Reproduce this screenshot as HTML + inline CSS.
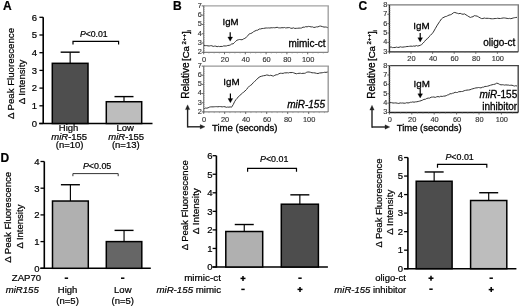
<!DOCTYPE html>
<html><head><meta charset="utf-8"><style>
html,body{margin:0;padding:0;background:#fff;}
svg{display:block;font-family:"Liberation Sans", sans-serif;will-change:transform;}
text{stroke:#000;stroke-width:0.22px;}
.bc text{stroke-width:0.3px;}
text.g{stroke:#333;stroke-width:0.15px;}
</style></head><body>
<svg width="520" height="307" viewBox="0 0 520 307">
<text x="3.00" y="9.80" font-size="12" text-anchor="start" font-weight="bold" font-style="normal" fill="#000" >A</text>
<text x="173.00" y="9.80" font-size="12" text-anchor="start" font-weight="bold" font-style="normal" fill="#000" >B</text>
<text x="358.50" y="9.90" font-size="12" text-anchor="start" font-weight="bold" font-style="normal" fill="#000" >C</text>
<text x="0.60" y="162.20" font-size="12" text-anchor="start" font-weight="bold" font-style="normal" fill="#000" >D</text>
<line x1="43.20" y1="17.30" x2="43.20" y2="124.00" stroke="#000" stroke-width="1.6" />
<line x1="39.20" y1="123.50" x2="152.50" y2="123.50" stroke="#000" stroke-width="1.6" />
<line x1="39.40" y1="123.50" x2="43.20" y2="123.50" stroke="#000" stroke-width="1.3" />
<text x="37.00" y="126.80" font-size="9.5" text-anchor="end" font-weight="normal" font-style="normal" fill="#000" >0</text>
<line x1="39.40" y1="105.80" x2="43.20" y2="105.80" stroke="#000" stroke-width="1.3" />
<text x="37.00" y="109.10" font-size="9.5" text-anchor="end" font-weight="normal" font-style="normal" fill="#000" >1</text>
<line x1="39.40" y1="88.10" x2="43.20" y2="88.10" stroke="#000" stroke-width="1.3" />
<text x="37.00" y="91.40" font-size="9.5" text-anchor="end" font-weight="normal" font-style="normal" fill="#000" >2</text>
<line x1="39.40" y1="70.40" x2="43.20" y2="70.40" stroke="#000" stroke-width="1.3" />
<text x="37.00" y="73.70" font-size="9.5" text-anchor="end" font-weight="normal" font-style="normal" fill="#000" >3</text>
<line x1="39.40" y1="52.70" x2="43.20" y2="52.70" stroke="#000" stroke-width="1.3" />
<text x="37.00" y="56.00" font-size="9.5" text-anchor="end" font-weight="normal" font-style="normal" fill="#000" >4</text>
<line x1="39.40" y1="35.00" x2="43.20" y2="35.00" stroke="#000" stroke-width="1.3" />
<text x="37.00" y="38.30" font-size="9.5" text-anchor="end" font-weight="normal" font-style="normal" fill="#000" >5</text>
<line x1="39.40" y1="17.30" x2="43.20" y2="17.30" stroke="#000" stroke-width="1.3" />
<text x="37.00" y="20.60" font-size="9.5" text-anchor="end" font-weight="normal" font-style="normal" fill="#000" >6</text>
<line x1="70.15" y1="63.32" x2="70.15" y2="52.17" stroke="#000" stroke-width="1.15" />
<line x1="60.65" y1="52.17" x2="79.65" y2="52.17" stroke="#000" stroke-width="1.4" />
<rect x="52.30" y="63.32" width="35.70" height="60.18" fill="#4e4e4e" stroke="#000" stroke-width="1.5"/>
<line x1="124.00" y1="101.73" x2="124.00" y2="96.60" stroke="#000" stroke-width="1.15" />
<line x1="114.50" y1="96.60" x2="133.50" y2="96.60" stroke="#000" stroke-width="1.4" />
<rect x="106.30" y="101.73" width="35.40" height="21.77" fill="#bdbdbd" stroke="#000" stroke-width="1.5"/>
<path d="M73.0,44.6 V41.4 H118.6 V44.6" stroke="#000" stroke-width="1.2" fill="none" />
<text x="93.8" y="37.0" font-size="8.7" text-anchor="middle"><tspan font-style="italic">P</tspan>&lt;0.01</text>
<text x="68.60" y="130.60" font-size="9.5" text-anchor="middle" font-weight="normal" font-style="normal" fill="#000" >High</text>
<text x="69.2" y="139.7" font-size="9.5" text-anchor="middle"><tspan font-style="italic">miR</tspan>-155</text>
<text x="69.60" y="148.20" font-size="9.5" text-anchor="middle" font-weight="normal" font-style="normal" fill="#000" >(n=10)</text>
<text x="125.20" y="130.60" font-size="9.5" text-anchor="middle" font-weight="normal" font-style="normal" fill="#000" >Low</text>
<text x="126.2" y="139.7" font-size="9.5" text-anchor="middle"><tspan font-style="italic">miR</tspan>-155</text>
<text x="125.80" y="148.20" font-size="9.5" text-anchor="middle" font-weight="normal" font-style="normal" fill="#000" >(n=13)</text>
<text transform="translate(13.6,73.5) rotate(-90)" font-size="9.3" text-anchor="middle" textLength="91" lengthAdjust="spacingAndGlyphs">&#916; Peak Fluorescence</text>
<text transform="translate(25.2,82.0) rotate(-90)" font-size="9.3" text-anchor="middle" textLength="44.5" lengthAdjust="spacingAndGlyphs">&#916; Intensity</text>
<line x1="44.30" y1="161.50" x2="44.30" y2="268.80" stroke="#000" stroke-width="1.6" />
<line x1="40.30" y1="268.30" x2="150.80" y2="268.30" stroke="#000" stroke-width="1.6" />
<line x1="40.50" y1="268.30" x2="44.30" y2="268.30" stroke="#000" stroke-width="1.3" />
<text x="39.60" y="271.60" font-size="9.5" text-anchor="end" font-weight="normal" font-style="normal" fill="#000" >0</text>
<line x1="40.50" y1="241.60" x2="44.30" y2="241.60" stroke="#000" stroke-width="1.3" />
<text x="39.60" y="244.90" font-size="9.5" text-anchor="end" font-weight="normal" font-style="normal" fill="#000" >1</text>
<line x1="40.50" y1="214.90" x2="44.30" y2="214.90" stroke="#000" stroke-width="1.3" />
<text x="39.60" y="218.20" font-size="9.5" text-anchor="end" font-weight="normal" font-style="normal" fill="#000" >2</text>
<line x1="40.50" y1="188.20" x2="44.30" y2="188.20" stroke="#000" stroke-width="1.3" />
<text x="39.60" y="191.50" font-size="9.5" text-anchor="end" font-weight="normal" font-style="normal" fill="#000" >3</text>
<line x1="40.50" y1="161.50" x2="44.30" y2="161.50" stroke="#000" stroke-width="1.3" />
<text x="39.60" y="164.80" font-size="9.5" text-anchor="end" font-weight="normal" font-style="normal" fill="#000" >4</text>
<line x1="70.40" y1="201.02" x2="70.40" y2="184.73" stroke="#000" stroke-width="1.15" />
<line x1="60.90" y1="184.73" x2="79.90" y2="184.73" stroke="#000" stroke-width="1.4" />
<rect x="52.50" y="201.02" width="35.80" height="67.28" fill="#b0b0b0" stroke="#000" stroke-width="1.5"/>
<line x1="124.05" y1="241.60" x2="124.05" y2="230.39" stroke="#000" stroke-width="1.15" />
<line x1="114.55" y1="230.39" x2="133.55" y2="230.39" stroke="#000" stroke-width="1.4" />
<rect x="106.30" y="241.60" width="35.50" height="26.70" fill="#666666" stroke="#000" stroke-width="1.5"/>
<path d="M72.9,176.2 V173.6 H118.2 V176.2" stroke="#333" stroke-width="1.0" fill="none" />
<text x="97.1" y="169.2" font-size="8.9" text-anchor="middle"><tspan font-style="italic">P</tspan>&lt;0.05</text>
<text transform="translate(11.2,217.3) rotate(-90)" font-size="9.3" text-anchor="middle" textLength="91" lengthAdjust="spacingAndGlyphs">&#916; Peak Fluorescence</text>
<text transform="translate(22.6,226.6) rotate(-90)" font-size="9.3" text-anchor="middle" textLength="44" lengthAdjust="spacingAndGlyphs">&#916; Intensity</text>
<text x="41.20" y="281.20" font-size="9.6" text-anchor="end" font-weight="normal" font-style="normal" fill="#000" >ZAP70</text>
<text x="38.80" y="293.20" font-size="9.6" text-anchor="end" font-weight="normal" font-style="italic" fill="#000" >miR155</text>
<line x1="64.70" y1="278.20" x2="68.10" y2="278.20" stroke="#000" stroke-width="1.5" />
<line x1="121.00" y1="278.20" x2="124.40" y2="278.20" stroke="#000" stroke-width="1.5" />
<text x="67.60" y="293.40" font-size="9.5" text-anchor="middle" font-weight="normal" font-style="normal" fill="#000" >High</text>
<text x="67.60" y="304.40" font-size="9.5" text-anchor="middle" font-weight="normal" font-style="normal" fill="#000" >(n=5)</text>
<text x="122.80" y="293.40" font-size="9.5" text-anchor="middle" font-weight="normal" font-style="normal" fill="#000" >Low</text>
<text x="122.80" y="304.40" font-size="9.5" text-anchor="middle" font-weight="normal" font-style="normal" fill="#000" >(n=5)</text>
<line x1="216.40" y1="155.70" x2="216.40" y2="267.50" stroke="#000" stroke-width="1.6" />
<line x1="212.40" y1="267.00" x2="327.90" y2="267.00" stroke="#000" stroke-width="1.6" />
<line x1="212.60" y1="267.00" x2="216.40" y2="267.00" stroke="#000" stroke-width="1.3" />
<text x="212.60" y="270.30" font-size="9.5" text-anchor="end" font-weight="normal" font-style="normal" fill="#000" >0</text>
<line x1="212.60" y1="248.45" x2="216.40" y2="248.45" stroke="#000" stroke-width="1.3" />
<text x="212.60" y="251.75" font-size="9.5" text-anchor="end" font-weight="normal" font-style="normal" fill="#000" >1</text>
<line x1="212.60" y1="229.90" x2="216.40" y2="229.90" stroke="#000" stroke-width="1.3" />
<text x="212.60" y="233.20" font-size="9.5" text-anchor="end" font-weight="normal" font-style="normal" fill="#000" >2</text>
<line x1="212.60" y1="211.35" x2="216.40" y2="211.35" stroke="#000" stroke-width="1.3" />
<text x="212.60" y="214.65" font-size="9.5" text-anchor="end" font-weight="normal" font-style="normal" fill="#000" >3</text>
<line x1="212.60" y1="192.80" x2="216.40" y2="192.80" stroke="#000" stroke-width="1.3" />
<text x="212.60" y="196.10" font-size="9.5" text-anchor="end" font-weight="normal" font-style="normal" fill="#000" >4</text>
<line x1="212.60" y1="174.25" x2="216.40" y2="174.25" stroke="#000" stroke-width="1.3" />
<text x="212.60" y="177.55" font-size="9.5" text-anchor="end" font-weight="normal" font-style="normal" fill="#000" >5</text>
<line x1="212.60" y1="155.70" x2="216.40" y2="155.70" stroke="#000" stroke-width="1.3" />
<text x="212.60" y="159.00" font-size="9.5" text-anchor="end" font-weight="normal" font-style="normal" fill="#000" >6</text>
<line x1="244.25" y1="231.50" x2="244.25" y2="224.52" stroke="#000" stroke-width="1.15" />
<line x1="234.75" y1="224.52" x2="253.75" y2="224.52" stroke="#000" stroke-width="1.4" />
<rect x="225.80" y="231.50" width="36.90" height="35.50" fill="#b0b0b0" stroke="#000" stroke-width="1.5"/>
<line x1="299.85" y1="204.21" x2="299.85" y2="194.84" stroke="#000" stroke-width="1.15" />
<line x1="290.35" y1="194.84" x2="309.35" y2="194.84" stroke="#000" stroke-width="1.4" />
<rect x="281.30" y="204.21" width="37.10" height="62.79" fill="#4d4d4d" stroke="#000" stroke-width="1.5"/>
<path d="M247.6,171.70000000000002 V168.4 H296.5 V171.70000000000002" stroke="#000" stroke-width="1.2" fill="none" />
<text x="274.2" y="162.1" font-size="8.9" text-anchor="middle"><tspan font-style="italic">P</tspan>&lt;0.01</text>
<text transform="translate(187.6,205.3) rotate(-90)" font-size="9.3" text-anchor="middle" textLength="90" lengthAdjust="spacingAndGlyphs">&#916; Peak Fluorescence</text>
<text transform="translate(199.4,211.2) rotate(-90)" font-size="9.3" text-anchor="middle" textLength="46" lengthAdjust="spacingAndGlyphs">&#916; Intensity</text>
<text x="220.90" y="281.30" font-size="9.9" text-anchor="end" font-weight="normal" font-style="normal" fill="#000" >mimic-ct</text>
<text x="221.0" y="292.9" font-size="9.7" text-anchor="end"><tspan font-style="italic">miR-155</tspan> mimic</text>
<line x1="240.50" y1="278.40" x2="245.50" y2="278.40" stroke="#000" stroke-width="1.5" />
<line x1="243.00" y1="275.90" x2="243.00" y2="280.90" stroke="#000" stroke-width="1.5" />
<line x1="241.30" y1="289.40" x2="244.70" y2="289.40" stroke="#000" stroke-width="1.5" />
<line x1="298.30" y1="278.20" x2="301.70" y2="278.20" stroke="#000" stroke-width="1.5" />
<line x1="297.50" y1="289.40" x2="302.50" y2="289.40" stroke="#000" stroke-width="1.5" />
<line x1="300.00" y1="286.90" x2="300.00" y2="291.90" stroke="#000" stroke-width="1.5" />
<line x1="407.90" y1="157.52" x2="407.90" y2="269.20" stroke="#000" stroke-width="1.6" />
<line x1="403.90" y1="268.70" x2="516.40" y2="268.70" stroke="#000" stroke-width="1.6" />
<line x1="404.10" y1="268.70" x2="407.90" y2="268.70" stroke="#000" stroke-width="1.3" />
<text x="403.00" y="272.00" font-size="9.5" text-anchor="end" font-weight="normal" font-style="normal" fill="#000" >0</text>
<line x1="404.10" y1="250.17" x2="407.90" y2="250.17" stroke="#000" stroke-width="1.3" />
<text x="403.00" y="253.47" font-size="9.5" text-anchor="end" font-weight="normal" font-style="normal" fill="#000" >1</text>
<line x1="404.10" y1="231.64" x2="407.90" y2="231.64" stroke="#000" stroke-width="1.3" />
<text x="403.00" y="234.94" font-size="9.5" text-anchor="end" font-weight="normal" font-style="normal" fill="#000" >2</text>
<line x1="404.10" y1="213.11" x2="407.90" y2="213.11" stroke="#000" stroke-width="1.3" />
<text x="403.00" y="216.41" font-size="9.5" text-anchor="end" font-weight="normal" font-style="normal" fill="#000" >3</text>
<line x1="404.10" y1="194.58" x2="407.90" y2="194.58" stroke="#000" stroke-width="1.3" />
<text x="403.00" y="197.88" font-size="9.5" text-anchor="end" font-weight="normal" font-style="normal" fill="#000" >4</text>
<line x1="404.10" y1="176.05" x2="407.90" y2="176.05" stroke="#000" stroke-width="1.3" />
<text x="403.00" y="179.35" font-size="9.5" text-anchor="end" font-weight="normal" font-style="normal" fill="#000" >5</text>
<line x1="404.10" y1="157.52" x2="407.90" y2="157.52" stroke="#000" stroke-width="1.3" />
<text x="403.00" y="160.82" font-size="9.5" text-anchor="end" font-weight="normal" font-style="normal" fill="#000" >6</text>
<line x1="434.15" y1="181.24" x2="434.15" y2="171.97" stroke="#000" stroke-width="1.15" />
<line x1="424.65" y1="171.97" x2="443.65" y2="171.97" stroke="#000" stroke-width="1.4" />
<rect x="416.20" y="181.24" width="35.90" height="87.46" fill="#4d4d4d" stroke="#000" stroke-width="1.5"/>
<line x1="488.70" y1="200.51" x2="488.70" y2="192.73" stroke="#000" stroke-width="1.15" />
<line x1="479.20" y1="192.73" x2="498.20" y2="192.73" stroke="#000" stroke-width="1.4" />
<rect x="470.60" y="200.51" width="36.20" height="68.19" fill="#bdbdbd" stroke="#000" stroke-width="1.5"/>
<path d="M437.5,167.70000000000002 V164.4 H486.8 V167.70000000000002" stroke="#000" stroke-width="1.2" fill="none" />
<text x="459.6" y="159.6" font-size="8.9" text-anchor="middle"><tspan font-style="italic">P</tspan>&lt;0.01</text>
<text transform="translate(381.8,203.0) rotate(-90)" font-size="9.3" text-anchor="middle" textLength="89" lengthAdjust="spacingAndGlyphs">&#916; Peak Fluorescence</text>
<text transform="translate(393.0,212.2) rotate(-90)" font-size="9.3" text-anchor="middle" textLength="45" lengthAdjust="spacingAndGlyphs">&#916; Intensity</text>
<text x="405.80" y="281.10" font-size="9.5" text-anchor="end" font-weight="normal" font-style="normal" fill="#000" >oligo-ct</text>
<text x="406.2" y="293.3" font-size="9.5" text-anchor="end"><tspan font-style="italic">miR-155</tspan> inhibitor</text>
<line x1="428.50" y1="278.20" x2="433.50" y2="278.20" stroke="#000" stroke-width="1.5" />
<line x1="431.00" y1="275.70" x2="431.00" y2="280.70" stroke="#000" stroke-width="1.5" />
<line x1="429.30" y1="289.20" x2="432.70" y2="289.20" stroke="#000" stroke-width="1.5" />
<line x1="489.50" y1="278.20" x2="492.90" y2="278.20" stroke="#000" stroke-width="1.5" />
<line x1="488.70" y1="289.60" x2="493.70" y2="289.60" stroke="#000" stroke-width="1.5" />
<line x1="491.20" y1="287.10" x2="491.20" y2="292.10" stroke="#000" stroke-width="1.5" />
<g class="bc">
<line x1="203.70" y1="5.90" x2="328.90" y2="5.90" stroke="#a2a2a2" stroke-width="1.4" />
<line x1="328.20" y1="5.90" x2="328.20" y2="52.30" stroke="#a2a2a2" stroke-width="1.4" />
<line x1="203.70" y1="5.90" x2="203.70" y2="52.80" stroke="#666" stroke-width="1.0" />
<line x1="201.70" y1="52.30" x2="203.70" y2="52.30" stroke="#555" stroke-width="0.9" />
<text x="201.70" y="54.20" font-size="7.3" text-anchor="end" font-weight="normal" font-style="normal" fill="#333" class="g">2</text>
<line x1="201.70" y1="43.02" x2="203.70" y2="43.02" stroke="#555" stroke-width="0.9" />
<text x="201.70" y="44.92" font-size="7.3" text-anchor="end" font-weight="normal" font-style="normal" fill="#333" class="g">3</text>
<line x1="201.70" y1="33.74" x2="203.70" y2="33.74" stroke="#555" stroke-width="0.9" />
<text x="201.70" y="35.64" font-size="7.3" text-anchor="end" font-weight="normal" font-style="normal" fill="#333" class="g">4</text>
<line x1="201.70" y1="24.46" x2="203.70" y2="24.46" stroke="#555" stroke-width="0.9" />
<text x="201.70" y="26.36" font-size="7.3" text-anchor="end" font-weight="normal" font-style="normal" fill="#333" class="g">5</text>
<line x1="201.70" y1="15.18" x2="203.70" y2="15.18" stroke="#555" stroke-width="0.9" />
<text x="201.70" y="17.08" font-size="7.3" text-anchor="end" font-weight="normal" font-style="normal" fill="#333" class="g">6</text>
<line x1="201.70" y1="5.90" x2="203.70" y2="5.90" stroke="#555" stroke-width="0.9" />
<text x="201.70" y="7.80" font-size="7.3" text-anchor="end" font-weight="normal" font-style="normal" fill="#333" class="g">7</text>
<line x1="203.70" y1="52.30" x2="204.90" y2="52.30" stroke="#888" stroke-width="0.6" />
<line x1="203.70" y1="50.44" x2="204.90" y2="50.44" stroke="#888" stroke-width="0.6" />
<line x1="203.70" y1="48.59" x2="204.90" y2="48.59" stroke="#888" stroke-width="0.6" />
<line x1="203.70" y1="46.73" x2="204.90" y2="46.73" stroke="#888" stroke-width="0.6" />
<line x1="203.70" y1="44.88" x2="204.90" y2="44.88" stroke="#888" stroke-width="0.6" />
<line x1="203.70" y1="43.02" x2="204.90" y2="43.02" stroke="#888" stroke-width="0.6" />
<line x1="203.70" y1="41.16" x2="204.90" y2="41.16" stroke="#888" stroke-width="0.6" />
<line x1="203.70" y1="39.31" x2="204.90" y2="39.31" stroke="#888" stroke-width="0.6" />
<line x1="203.70" y1="37.45" x2="204.90" y2="37.45" stroke="#888" stroke-width="0.6" />
<line x1="203.70" y1="35.60" x2="204.90" y2="35.60" stroke="#888" stroke-width="0.6" />
<line x1="203.70" y1="33.74" x2="204.90" y2="33.74" stroke="#888" stroke-width="0.6" />
<line x1="203.70" y1="31.88" x2="204.90" y2="31.88" stroke="#888" stroke-width="0.6" />
<line x1="203.70" y1="30.03" x2="204.90" y2="30.03" stroke="#888" stroke-width="0.6" />
<line x1="203.70" y1="28.17" x2="204.90" y2="28.17" stroke="#888" stroke-width="0.6" />
<line x1="203.70" y1="26.32" x2="204.90" y2="26.32" stroke="#888" stroke-width="0.6" />
<line x1="203.70" y1="24.46" x2="204.90" y2="24.46" stroke="#888" stroke-width="0.6" />
<line x1="203.70" y1="22.60" x2="204.90" y2="22.60" stroke="#888" stroke-width="0.6" />
<line x1="203.70" y1="20.75" x2="204.90" y2="20.75" stroke="#888" stroke-width="0.6" />
<line x1="203.70" y1="18.89" x2="204.90" y2="18.89" stroke="#888" stroke-width="0.6" />
<line x1="203.70" y1="17.04" x2="204.90" y2="17.04" stroke="#888" stroke-width="0.6" />
<line x1="203.70" y1="15.18" x2="204.90" y2="15.18" stroke="#888" stroke-width="0.6" />
<line x1="203.70" y1="13.32" x2="204.90" y2="13.32" stroke="#888" stroke-width="0.6" />
<line x1="203.70" y1="11.47" x2="204.90" y2="11.47" stroke="#888" stroke-width="0.6" />
<line x1="203.70" y1="9.61" x2="204.90" y2="9.61" stroke="#888" stroke-width="0.6" />
<line x1="203.70" y1="7.76" x2="204.90" y2="7.76" stroke="#888" stroke-width="0.6" />
<line x1="203.70" y1="5.90" x2="204.90" y2="5.90" stroke="#888" stroke-width="0.6" />
<line x1="203.70" y1="52.30" x2="328.20" y2="52.30" stroke="#666" stroke-width="1.0" />
<line x1="203.70" y1="52.30" x2="203.70" y2="54.30" stroke="#555" stroke-width="0.9" />
<line x1="208.90" y1="52.30" x2="208.90" y2="53.50" stroke="#888" stroke-width="0.6" />
<line x1="214.10" y1="52.30" x2="214.10" y2="53.50" stroke="#888" stroke-width="0.6" />
<line x1="219.30" y1="52.30" x2="219.30" y2="53.50" stroke="#888" stroke-width="0.6" />
<line x1="224.50" y1="52.30" x2="224.50" y2="54.30" stroke="#555" stroke-width="0.9" />
<line x1="229.70" y1="52.30" x2="229.70" y2="53.50" stroke="#888" stroke-width="0.6" />
<line x1="234.90" y1="52.30" x2="234.90" y2="53.50" stroke="#888" stroke-width="0.6" />
<line x1="240.10" y1="52.30" x2="240.10" y2="53.50" stroke="#888" stroke-width="0.6" />
<line x1="245.30" y1="52.30" x2="245.30" y2="54.30" stroke="#555" stroke-width="0.9" />
<line x1="250.50" y1="52.30" x2="250.50" y2="53.50" stroke="#888" stroke-width="0.6" />
<line x1="255.70" y1="52.30" x2="255.70" y2="53.50" stroke="#888" stroke-width="0.6" />
<line x1="260.90" y1="52.30" x2="260.90" y2="53.50" stroke="#888" stroke-width="0.6" />
<line x1="266.10" y1="52.30" x2="266.10" y2="54.30" stroke="#555" stroke-width="0.9" />
<line x1="271.30" y1="52.30" x2="271.30" y2="53.50" stroke="#888" stroke-width="0.6" />
<line x1="276.50" y1="52.30" x2="276.50" y2="53.50" stroke="#888" stroke-width="0.6" />
<line x1="281.70" y1="52.30" x2="281.70" y2="53.50" stroke="#888" stroke-width="0.6" />
<line x1="286.90" y1="52.30" x2="286.90" y2="54.30" stroke="#555" stroke-width="0.9" />
<line x1="292.10" y1="52.30" x2="292.10" y2="53.50" stroke="#888" stroke-width="0.6" />
<line x1="297.30" y1="52.30" x2="297.30" y2="53.50" stroke="#888" stroke-width="0.6" />
<line x1="302.50" y1="52.30" x2="302.50" y2="53.50" stroke="#888" stroke-width="0.6" />
<line x1="307.70" y1="52.30" x2="307.70" y2="54.30" stroke="#555" stroke-width="0.9" />
<line x1="312.90" y1="52.30" x2="312.90" y2="53.50" stroke="#888" stroke-width="0.6" />
<line x1="318.10" y1="52.30" x2="318.10" y2="53.50" stroke="#888" stroke-width="0.6" />
<line x1="323.30" y1="52.30" x2="323.30" y2="53.50" stroke="#888" stroke-width="0.6" />
<text x="204.10" y="61.90" font-size="7.4" text-anchor="middle" font-weight="normal" font-style="normal" fill="#333" class="g">0</text>
<text x="224.90" y="61.90" font-size="7.4" text-anchor="middle" font-weight="normal" font-style="normal" fill="#333" class="g">20</text>
<text x="245.70" y="61.90" font-size="7.4" text-anchor="middle" font-weight="normal" font-style="normal" fill="#333" class="g">40</text>
<text x="266.50" y="61.90" font-size="7.4" text-anchor="middle" font-weight="normal" font-style="normal" fill="#333" class="g">60</text>
<text x="287.30" y="61.90" font-size="7.4" text-anchor="middle" font-weight="normal" font-style="normal" fill="#333" class="g">80</text>
<text x="308.10" y="61.90" font-size="7.4" text-anchor="middle" font-weight="normal" font-style="normal" fill="#333" class="g">100</text>
<path d="M204.00,45.32 L205.31,45.63 L206.62,45.61 L207.94,45.87 L209.25,45.99 L210.56,45.70 L211.88,45.76 L213.19,46.44 L214.50,46.13 L215.80,46.13 L217.10,46.68 L218.40,46.33 L219.70,46.60 L221.00,46.37 L222.30,46.50 L223.68,45.92 L225.06,46.01 L226.44,45.94 L227.82,45.46 L229.20,45.37 L230.50,44.82 L231.80,43.89 L233.10,43.88 L234.30,42.71 L235.50,41.46 L236.95,40.22 L238.40,39.76 L239.63,39.48 L240.87,39.65 L242.10,39.77 L243.47,38.95 L244.83,38.39 L246.20,37.33 L247.80,35.81 L249.40,33.76 L250.77,33.50 L252.13,32.87 L253.50,31.72 L254.93,31.02 L256.35,30.35 L257.77,30.15 L259.20,29.06 L260.65,28.96 L262.10,28.51 L263.55,28.43 L265.00,28.12 L266.21,27.98 L267.43,28.03 L268.64,27.92 L269.86,28.03 L271.07,27.76 L272.29,27.81 L273.50,27.65 L274.71,27.77 L275.92,27.58 L277.13,27.25 L278.34,27.77 L279.55,27.88 L280.76,27.86 L281.97,27.66 L283.18,27.79 L284.39,27.47 L285.60,27.93 L286.88,27.81 L288.16,27.67 L289.44,27.57 L290.72,28.19 L292.00,28.34 L293.43,27.84 L294.85,28.46 L296.27,28.31 L297.70,28.26 L299.02,28.08 L300.35,28.14 L301.68,27.94 L303.00,27.08 L304.36,27.26 L305.72,26.64 L307.08,26.89 L308.44,26.40 L309.80,26.57 L311.15,26.91 L312.50,26.85 L313.85,27.47 L315.20,27.27 L316.55,26.83 L317.90,26.92 L319.25,26.25 L320.60,26.09 L322.30,26.59 L324.00,27.08 L325.23,26.99 L326.47,27.15 L327.70,27.70" stroke="#333" stroke-width="1.0" fill="none" stroke-linejoin="round"/>
<text x="230.60" y="24.90" font-size="9.6" text-anchor="middle" font-weight="normal" font-style="normal" fill="#000" >IgM</text>
<line x1="230.20" y1="32.20" x2="230.20" y2="37.70" stroke="#000" stroke-width="1.2" />
<path d="M227.79999999999998,37.0 L232.6,37.0 L230.2,41.2 Z" stroke="#000" stroke-width="0.3" fill="#000" />
<text x="325.60" y="47.10" font-size="10" text-anchor="end" font-weight="normal" font-style="normal" fill="#000" >mimic-ct</text>
<line x1="203.70" y1="66.10" x2="328.90" y2="66.10" stroke="#999" stroke-width="1.4" />
<line x1="328.20" y1="66.10" x2="328.20" y2="111.90" stroke="#999" stroke-width="1.4" />
<line x1="203.70" y1="66.10" x2="203.70" y2="112.40" stroke="#666" stroke-width="1.0" />
<line x1="201.70" y1="111.90" x2="203.70" y2="111.90" stroke="#555" stroke-width="0.9" />
<text x="201.70" y="113.80" font-size="7.3" text-anchor="end" font-weight="normal" font-style="normal" fill="#333" class="g">2</text>
<line x1="201.70" y1="102.74" x2="203.70" y2="102.74" stroke="#555" stroke-width="0.9" />
<text x="201.70" y="104.64" font-size="7.3" text-anchor="end" font-weight="normal" font-style="normal" fill="#333" class="g">3</text>
<line x1="201.70" y1="93.58" x2="203.70" y2="93.58" stroke="#555" stroke-width="0.9" />
<text x="201.70" y="95.48" font-size="7.3" text-anchor="end" font-weight="normal" font-style="normal" fill="#333" class="g">4</text>
<line x1="201.70" y1="84.42" x2="203.70" y2="84.42" stroke="#555" stroke-width="0.9" />
<text x="201.70" y="86.32" font-size="7.3" text-anchor="end" font-weight="normal" font-style="normal" fill="#333" class="g">5</text>
<line x1="201.70" y1="75.26" x2="203.70" y2="75.26" stroke="#555" stroke-width="0.9" />
<text x="201.70" y="77.16" font-size="7.3" text-anchor="end" font-weight="normal" font-style="normal" fill="#333" class="g">6</text>
<line x1="201.70" y1="66.10" x2="203.70" y2="66.10" stroke="#555" stroke-width="0.9" />
<text x="201.70" y="68.00" font-size="7.3" text-anchor="end" font-weight="normal" font-style="normal" fill="#333" class="g">7</text>
<line x1="203.70" y1="111.90" x2="204.90" y2="111.90" stroke="#888" stroke-width="0.6" />
<line x1="203.70" y1="110.07" x2="204.90" y2="110.07" stroke="#888" stroke-width="0.6" />
<line x1="203.70" y1="108.24" x2="204.90" y2="108.24" stroke="#888" stroke-width="0.6" />
<line x1="203.70" y1="106.40" x2="204.90" y2="106.40" stroke="#888" stroke-width="0.6" />
<line x1="203.70" y1="104.57" x2="204.90" y2="104.57" stroke="#888" stroke-width="0.6" />
<line x1="203.70" y1="102.74" x2="204.90" y2="102.74" stroke="#888" stroke-width="0.6" />
<line x1="203.70" y1="100.91" x2="204.90" y2="100.91" stroke="#888" stroke-width="0.6" />
<line x1="203.70" y1="99.08" x2="204.90" y2="99.08" stroke="#888" stroke-width="0.6" />
<line x1="203.70" y1="97.24" x2="204.90" y2="97.24" stroke="#888" stroke-width="0.6" />
<line x1="203.70" y1="95.41" x2="204.90" y2="95.41" stroke="#888" stroke-width="0.6" />
<line x1="203.70" y1="93.58" x2="204.90" y2="93.58" stroke="#888" stroke-width="0.6" />
<line x1="203.70" y1="91.75" x2="204.90" y2="91.75" stroke="#888" stroke-width="0.6" />
<line x1="203.70" y1="89.92" x2="204.90" y2="89.92" stroke="#888" stroke-width="0.6" />
<line x1="203.70" y1="88.08" x2="204.90" y2="88.08" stroke="#888" stroke-width="0.6" />
<line x1="203.70" y1="86.25" x2="204.90" y2="86.25" stroke="#888" stroke-width="0.6" />
<line x1="203.70" y1="84.42" x2="204.90" y2="84.42" stroke="#888" stroke-width="0.6" />
<line x1="203.70" y1="82.59" x2="204.90" y2="82.59" stroke="#888" stroke-width="0.6" />
<line x1="203.70" y1="80.76" x2="204.90" y2="80.76" stroke="#888" stroke-width="0.6" />
<line x1="203.70" y1="78.92" x2="204.90" y2="78.92" stroke="#888" stroke-width="0.6" />
<line x1="203.70" y1="77.09" x2="204.90" y2="77.09" stroke="#888" stroke-width="0.6" />
<line x1="203.70" y1="75.26" x2="204.90" y2="75.26" stroke="#888" stroke-width="0.6" />
<line x1="203.70" y1="73.43" x2="204.90" y2="73.43" stroke="#888" stroke-width="0.6" />
<line x1="203.70" y1="71.60" x2="204.90" y2="71.60" stroke="#888" stroke-width="0.6" />
<line x1="203.70" y1="69.76" x2="204.90" y2="69.76" stroke="#888" stroke-width="0.6" />
<line x1="203.70" y1="67.93" x2="204.90" y2="67.93" stroke="#888" stroke-width="0.6" />
<line x1="203.70" y1="66.10" x2="204.90" y2="66.10" stroke="#888" stroke-width="0.6" />
<line x1="203.70" y1="111.90" x2="328.20" y2="111.90" stroke="#666" stroke-width="1.0" />
<line x1="203.70" y1="111.90" x2="203.70" y2="113.90" stroke="#555" stroke-width="0.9" />
<line x1="208.95" y1="111.90" x2="208.95" y2="113.10" stroke="#888" stroke-width="0.6" />
<line x1="214.20" y1="111.90" x2="214.20" y2="113.10" stroke="#888" stroke-width="0.6" />
<line x1="219.45" y1="111.90" x2="219.45" y2="113.10" stroke="#888" stroke-width="0.6" />
<line x1="224.70" y1="111.90" x2="224.70" y2="113.90" stroke="#555" stroke-width="0.9" />
<line x1="229.95" y1="111.90" x2="229.95" y2="113.10" stroke="#888" stroke-width="0.6" />
<line x1="235.20" y1="111.90" x2="235.20" y2="113.10" stroke="#888" stroke-width="0.6" />
<line x1="240.45" y1="111.90" x2="240.45" y2="113.10" stroke="#888" stroke-width="0.6" />
<line x1="245.70" y1="111.90" x2="245.70" y2="113.90" stroke="#555" stroke-width="0.9" />
<line x1="250.95" y1="111.90" x2="250.95" y2="113.10" stroke="#888" stroke-width="0.6" />
<line x1="256.20" y1="111.90" x2="256.20" y2="113.10" stroke="#888" stroke-width="0.6" />
<line x1="261.45" y1="111.90" x2="261.45" y2="113.10" stroke="#888" stroke-width="0.6" />
<line x1="266.70" y1="111.90" x2="266.70" y2="113.90" stroke="#555" stroke-width="0.9" />
<line x1="271.95" y1="111.90" x2="271.95" y2="113.10" stroke="#888" stroke-width="0.6" />
<line x1="277.20" y1="111.90" x2="277.20" y2="113.10" stroke="#888" stroke-width="0.6" />
<line x1="282.45" y1="111.90" x2="282.45" y2="113.10" stroke="#888" stroke-width="0.6" />
<line x1="287.70" y1="111.90" x2="287.70" y2="113.90" stroke="#555" stroke-width="0.9" />
<line x1="292.95" y1="111.90" x2="292.95" y2="113.10" stroke="#888" stroke-width="0.6" />
<line x1="298.20" y1="111.90" x2="298.20" y2="113.10" stroke="#888" stroke-width="0.6" />
<line x1="303.45" y1="111.90" x2="303.45" y2="113.10" stroke="#888" stroke-width="0.6" />
<line x1="308.70" y1="111.90" x2="308.70" y2="113.90" stroke="#555" stroke-width="0.9" />
<line x1="313.95" y1="111.90" x2="313.95" y2="113.10" stroke="#888" stroke-width="0.6" />
<line x1="319.20" y1="111.90" x2="319.20" y2="113.10" stroke="#888" stroke-width="0.6" />
<line x1="324.45" y1="111.90" x2="324.45" y2="113.10" stroke="#888" stroke-width="0.6" />
<text x="204.10" y="121.50" font-size="7.4" text-anchor="middle" font-weight="normal" font-style="normal" fill="#333" class="g">0</text>
<text x="225.10" y="121.50" font-size="7.4" text-anchor="middle" font-weight="normal" font-style="normal" fill="#333" class="g">20</text>
<text x="246.10" y="121.50" font-size="7.4" text-anchor="middle" font-weight="normal" font-style="normal" fill="#333" class="g">40</text>
<text x="267.10" y="121.50" font-size="7.4" text-anchor="middle" font-weight="normal" font-style="normal" fill="#333" class="g">60</text>
<text x="288.10" y="121.50" font-size="7.4" text-anchor="middle" font-weight="normal" font-style="normal" fill="#333" class="g">80</text>
<text x="309.10" y="121.50" font-size="7.4" text-anchor="middle" font-weight="normal" font-style="normal" fill="#333" class="g">100</text>
<path d="M204.20,108.76 L205.50,108.05 L206.80,108.18 L208.10,107.82 L209.40,107.13 L210.70,106.87 L211.90,106.85 L213.10,106.87 L214.30,106.77 L215.50,106.67 L216.70,106.65 L217.90,106.81 L219.32,106.58 L220.74,106.61 L222.16,106.89 L223.58,106.64 L225.00,106.76 L226.30,107.31 L227.60,107.07 L228.90,107.17 L230.20,106.88 L231.50,107.24 L233.20,104.66 L234.55,101.76 L235.90,99.68 L237.20,98.29 L238.50,96.49 L239.80,95.49 L241.10,94.25 L242.40,93.28 L243.70,91.92 L245.00,91.04 L246.50,89.53 L248.00,87.50 L249.50,85.99 L250.78,85.22 L252.05,84.22 L253.32,82.53 L254.60,81.47 L256.30,79.91 L258.00,78.07 L260.00,76.70 L261.75,76.17 L263.50,75.71 L265.10,75.52 L266.70,74.96 L268.06,75.17 L269.42,75.61 L270.78,75.25 L272.14,75.79 L273.50,76.06 L274.84,75.29 L276.18,74.75 L277.52,74.67 L278.86,73.80 L280.20,73.28 L281.65,73.33 L283.10,73.39 L284.55,72.85 L286.00,72.88 L287.25,72.73 L288.50,72.93 L289.75,72.51 L291.00,72.65 L292.32,72.44 L293.65,72.84 L294.98,73.33 L296.30,73.77 L297.64,73.47 L298.98,73.31 L300.32,73.23 L301.66,73.52 L303.00,73.28 L304.22,73.37 L305.44,73.06 L306.66,72.26 L307.88,71.99 L309.10,72.02 L310.55,72.30 L312.00,72.81 L313.50,72.79 L315.00,72.94 L316.50,73.35 L318.00,73.54 L319.50,73.01 L321.00,72.89 L322.25,72.72 L323.50,72.49 L324.75,72.26 L326.00,72.39 L327.70,72.00" stroke="#333" stroke-width="1.0" fill="none" stroke-linejoin="round"/>
<text x="231.40" y="84.60" font-size="9.8" text-anchor="middle" font-weight="normal" font-style="normal" fill="#000" >IgM</text>
<line x1="230.40" y1="93.50" x2="230.40" y2="99.30" stroke="#000" stroke-width="1.2" />
<path d="M228.0,98.6 L232.8,98.6 L230.4,102.8 Z" stroke="#000" stroke-width="0.3" fill="#000" />
<text x="325.00" y="107.50" font-size="10" text-anchor="end" font-weight="normal" font-style="italic" fill="#000" >miR-155</text>
<line x1="389.40" y1="4.90" x2="519.00" y2="4.90" stroke="#7a7a7a" stroke-width="1.4" />
<line x1="518.30" y1="4.90" x2="518.30" y2="51.80" stroke="#7a7a7a" stroke-width="1.4" />
<line x1="389.40" y1="4.90" x2="389.40" y2="52.45" stroke="#222" stroke-width="1.3" />
<line x1="387.40" y1="51.80" x2="389.40" y2="51.80" stroke="#555" stroke-width="0.9" />
<text x="387.40" y="53.70" font-size="7.3" text-anchor="end" font-weight="normal" font-style="normal" fill="#333" class="g">3</text>
<line x1="387.40" y1="42.42" x2="389.40" y2="42.42" stroke="#555" stroke-width="0.9" />
<text x="387.40" y="44.32" font-size="7.3" text-anchor="end" font-weight="normal" font-style="normal" fill="#333" class="g">4</text>
<line x1="387.40" y1="33.04" x2="389.40" y2="33.04" stroke="#555" stroke-width="0.9" />
<text x="387.40" y="34.94" font-size="7.3" text-anchor="end" font-weight="normal" font-style="normal" fill="#333" class="g">5</text>
<line x1="387.40" y1="23.66" x2="389.40" y2="23.66" stroke="#555" stroke-width="0.9" />
<text x="387.40" y="25.56" font-size="7.3" text-anchor="end" font-weight="normal" font-style="normal" fill="#333" class="g">6</text>
<line x1="387.40" y1="14.28" x2="389.40" y2="14.28" stroke="#555" stroke-width="0.9" />
<text x="387.40" y="16.18" font-size="7.3" text-anchor="end" font-weight="normal" font-style="normal" fill="#333" class="g">7</text>
<line x1="387.40" y1="4.90" x2="389.40" y2="4.90" stroke="#555" stroke-width="0.9" />
<text x="387.40" y="6.80" font-size="7.3" text-anchor="end" font-weight="normal" font-style="normal" fill="#333" class="g">8</text>
<line x1="389.40" y1="51.80" x2="390.60" y2="51.80" stroke="#888" stroke-width="0.6" />
<line x1="389.40" y1="49.92" x2="390.60" y2="49.92" stroke="#888" stroke-width="0.6" />
<line x1="389.40" y1="48.05" x2="390.60" y2="48.05" stroke="#888" stroke-width="0.6" />
<line x1="389.40" y1="46.17" x2="390.60" y2="46.17" stroke="#888" stroke-width="0.6" />
<line x1="389.40" y1="44.30" x2="390.60" y2="44.30" stroke="#888" stroke-width="0.6" />
<line x1="389.40" y1="42.42" x2="390.60" y2="42.42" stroke="#888" stroke-width="0.6" />
<line x1="389.40" y1="40.54" x2="390.60" y2="40.54" stroke="#888" stroke-width="0.6" />
<line x1="389.40" y1="38.67" x2="390.60" y2="38.67" stroke="#888" stroke-width="0.6" />
<line x1="389.40" y1="36.79" x2="390.60" y2="36.79" stroke="#888" stroke-width="0.6" />
<line x1="389.40" y1="34.92" x2="390.60" y2="34.92" stroke="#888" stroke-width="0.6" />
<line x1="389.40" y1="33.04" x2="390.60" y2="33.04" stroke="#888" stroke-width="0.6" />
<line x1="389.40" y1="31.16" x2="390.60" y2="31.16" stroke="#888" stroke-width="0.6" />
<line x1="389.40" y1="29.29" x2="390.60" y2="29.29" stroke="#888" stroke-width="0.6" />
<line x1="389.40" y1="27.41" x2="390.60" y2="27.41" stroke="#888" stroke-width="0.6" />
<line x1="389.40" y1="25.54" x2="390.60" y2="25.54" stroke="#888" stroke-width="0.6" />
<line x1="389.40" y1="23.66" x2="390.60" y2="23.66" stroke="#888" stroke-width="0.6" />
<line x1="389.40" y1="21.78" x2="390.60" y2="21.78" stroke="#888" stroke-width="0.6" />
<line x1="389.40" y1="19.91" x2="390.60" y2="19.91" stroke="#888" stroke-width="0.6" />
<line x1="389.40" y1="18.03" x2="390.60" y2="18.03" stroke="#888" stroke-width="0.6" />
<line x1="389.40" y1="16.16" x2="390.60" y2="16.16" stroke="#888" stroke-width="0.6" />
<line x1="389.40" y1="14.28" x2="390.60" y2="14.28" stroke="#888" stroke-width="0.6" />
<line x1="389.40" y1="12.40" x2="390.60" y2="12.40" stroke="#888" stroke-width="0.6" />
<line x1="389.40" y1="10.53" x2="390.60" y2="10.53" stroke="#888" stroke-width="0.6" />
<line x1="389.40" y1="8.65" x2="390.60" y2="8.65" stroke="#888" stroke-width="0.6" />
<line x1="389.40" y1="6.78" x2="390.60" y2="6.78" stroke="#888" stroke-width="0.6" />
<line x1="389.40" y1="4.90" x2="390.60" y2="4.90" stroke="#888" stroke-width="0.6" />
<line x1="389.40" y1="51.80" x2="518.30" y2="51.80" stroke="#222" stroke-width="1.3" />
<line x1="389.40" y1="51.80" x2="389.40" y2="53.80" stroke="#555" stroke-width="0.9" />
<line x1="394.80" y1="51.80" x2="394.80" y2="53.00" stroke="#888" stroke-width="0.6" />
<line x1="400.20" y1="51.80" x2="400.20" y2="53.00" stroke="#888" stroke-width="0.6" />
<line x1="405.60" y1="51.80" x2="405.60" y2="53.00" stroke="#888" stroke-width="0.6" />
<line x1="411.00" y1="51.80" x2="411.00" y2="53.80" stroke="#555" stroke-width="0.9" />
<line x1="416.40" y1="51.80" x2="416.40" y2="53.00" stroke="#888" stroke-width="0.6" />
<line x1="421.80" y1="51.80" x2="421.80" y2="53.00" stroke="#888" stroke-width="0.6" />
<line x1="427.20" y1="51.80" x2="427.20" y2="53.00" stroke="#888" stroke-width="0.6" />
<line x1="432.60" y1="51.80" x2="432.60" y2="53.80" stroke="#555" stroke-width="0.9" />
<line x1="438.00" y1="51.80" x2="438.00" y2="53.00" stroke="#888" stroke-width="0.6" />
<line x1="443.40" y1="51.80" x2="443.40" y2="53.00" stroke="#888" stroke-width="0.6" />
<line x1="448.80" y1="51.80" x2="448.80" y2="53.00" stroke="#888" stroke-width="0.6" />
<line x1="454.20" y1="51.80" x2="454.20" y2="53.80" stroke="#555" stroke-width="0.9" />
<line x1="459.60" y1="51.80" x2="459.60" y2="53.00" stroke="#888" stroke-width="0.6" />
<line x1="465.00" y1="51.80" x2="465.00" y2="53.00" stroke="#888" stroke-width="0.6" />
<line x1="470.40" y1="51.80" x2="470.40" y2="53.00" stroke="#888" stroke-width="0.6" />
<line x1="475.80" y1="51.80" x2="475.80" y2="53.80" stroke="#555" stroke-width="0.9" />
<line x1="481.20" y1="51.80" x2="481.20" y2="53.00" stroke="#888" stroke-width="0.6" />
<line x1="486.60" y1="51.80" x2="486.60" y2="53.00" stroke="#888" stroke-width="0.6" />
<line x1="492.00" y1="51.80" x2="492.00" y2="53.00" stroke="#888" stroke-width="0.6" />
<line x1="497.40" y1="51.80" x2="497.40" y2="53.80" stroke="#555" stroke-width="0.9" />
<line x1="502.80" y1="51.80" x2="502.80" y2="53.00" stroke="#888" stroke-width="0.6" />
<line x1="508.20" y1="51.80" x2="508.20" y2="53.00" stroke="#888" stroke-width="0.6" />
<line x1="513.60" y1="51.80" x2="513.60" y2="53.00" stroke="#888" stroke-width="0.6" />
<text x="411.40" y="61.40" font-size="7.4" text-anchor="middle" font-weight="normal" font-style="normal" fill="#333" class="g">20</text>
<text x="433.00" y="61.40" font-size="7.4" text-anchor="middle" font-weight="normal" font-style="normal" fill="#333" class="g">40</text>
<text x="454.60" y="61.40" font-size="7.4" text-anchor="middle" font-weight="normal" font-style="normal" fill="#333" class="g">60</text>
<text x="476.20" y="61.40" font-size="7.4" text-anchor="middle" font-weight="normal" font-style="normal" fill="#333" class="g">80</text>
<text x="497.80" y="61.40" font-size="7.4" text-anchor="middle" font-weight="normal" font-style="normal" fill="#333" class="g">100</text>
<path d="M389.90,47.16 L391.20,47.00 L392.50,47.61 L393.80,47.52 L395.10,47.54 L396.40,47.10 L397.70,47.42 L399.00,47.35 L400.30,46.81 L401.60,47.12 L402.90,47.14 L404.25,46.93 L405.60,46.75 L406.95,46.50 L408.30,46.46 L409.65,46.29 L411.00,46.10 L412.33,46.33 L413.67,45.98 L415.00,46.22 L416.33,45.55 L417.67,46.02 L419.00,45.74 L420.30,45.25 L421.60,44.58 L423.05,43.18 L424.50,41.55 L426.00,39.66 L427.50,38.67 L429.00,36.72 L430.50,35.26 L431.90,33.86 L433.30,32.12 L435.50,28.24 L437.30,25.11 L439.70,21.48 L441.50,18.89 L442.75,17.83 L444.00,17.25 L445.23,16.58 L446.47,16.40 L447.70,15.70 L449.00,15.09 L450.30,14.82 L451.80,14.16 L453.30,12.84 L454.80,12.40 L456.10,12.93 L457.40,13.28 L458.70,13.73 L460.15,13.33 L461.60,13.94 L463.05,14.28 L464.50,13.88 L465.98,14.86 L467.45,15.69 L468.92,16.69 L470.40,17.45 L471.70,16.98 L473.00,16.69 L474.30,15.65 L475.75,15.89 L477.20,16.14 L478.70,17.04 L480.20,17.90 L481.56,18.57 L482.92,18.53 L484.28,18.03 L485.64,18.36 L487.00,18.27 L488.36,18.35 L489.72,18.46 L491.08,18.74 L492.44,18.78 L493.80,18.70 L495.10,18.48 L496.40,18.48 L497.70,18.24 L499.00,18.44 L500.40,18.50 L501.80,18.22 L503.20,17.96 L504.60,17.97 L505.84,18.17 L507.08,18.39 L508.32,18.58 L509.56,18.36 L510.80,18.71 L512.04,18.35 L513.28,17.97 L514.52,17.69 L515.76,17.54 L517.00,17.30" stroke="#333" stroke-width="1.0" fill="none" stroke-linejoin="round"/>
<text x="421.50" y="28.60" font-size="9.8" text-anchor="middle" font-weight="normal" font-style="normal" fill="#000" >IgM</text>
<line x1="420.20" y1="33.00" x2="420.20" y2="38.40" stroke="#000" stroke-width="1.2" />
<path d="M417.8,37.699999999999996 L422.59999999999997,37.699999999999996 L420.2,41.9 Z" stroke="#000" stroke-width="0.3" fill="#000" />
<text x="515.40" y="46.30" font-size="10" text-anchor="end" font-weight="normal" font-style="normal" fill="#000" >oligo-ct</text>
<line x1="389.40" y1="65.60" x2="518.90" y2="65.60" stroke="#444" stroke-width="1.4" />
<line x1="518.20" y1="65.60" x2="518.20" y2="112.50" stroke="#444" stroke-width="1.4" />
<line x1="389.40" y1="65.60" x2="389.40" y2="113.15" stroke="#222" stroke-width="1.3" />
<line x1="387.40" y1="112.50" x2="389.40" y2="112.50" stroke="#555" stroke-width="0.9" />
<text x="387.40" y="114.40" font-size="7.3" text-anchor="end" font-weight="normal" font-style="normal" fill="#333" class="g">3</text>
<line x1="387.40" y1="103.12" x2="389.40" y2="103.12" stroke="#555" stroke-width="0.9" />
<text x="387.40" y="105.02" font-size="7.3" text-anchor="end" font-weight="normal" font-style="normal" fill="#333" class="g">4</text>
<line x1="387.40" y1="93.74" x2="389.40" y2="93.74" stroke="#555" stroke-width="0.9" />
<text x="387.40" y="95.64" font-size="7.3" text-anchor="end" font-weight="normal" font-style="normal" fill="#333" class="g">5</text>
<line x1="387.40" y1="84.36" x2="389.40" y2="84.36" stroke="#555" stroke-width="0.9" />
<text x="387.40" y="86.26" font-size="7.3" text-anchor="end" font-weight="normal" font-style="normal" fill="#333" class="g">6</text>
<line x1="387.40" y1="74.98" x2="389.40" y2="74.98" stroke="#555" stroke-width="0.9" />
<text x="387.40" y="76.88" font-size="7.3" text-anchor="end" font-weight="normal" font-style="normal" fill="#333" class="g">7</text>
<line x1="387.40" y1="65.60" x2="389.40" y2="65.60" stroke="#555" stroke-width="0.9" />
<text x="387.40" y="67.50" font-size="7.3" text-anchor="end" font-weight="normal" font-style="normal" fill="#333" class="g">8</text>
<line x1="389.40" y1="112.50" x2="390.60" y2="112.50" stroke="#888" stroke-width="0.6" />
<line x1="389.40" y1="110.62" x2="390.60" y2="110.62" stroke="#888" stroke-width="0.6" />
<line x1="389.40" y1="108.75" x2="390.60" y2="108.75" stroke="#888" stroke-width="0.6" />
<line x1="389.40" y1="106.87" x2="390.60" y2="106.87" stroke="#888" stroke-width="0.6" />
<line x1="389.40" y1="105.00" x2="390.60" y2="105.00" stroke="#888" stroke-width="0.6" />
<line x1="389.40" y1="103.12" x2="390.60" y2="103.12" stroke="#888" stroke-width="0.6" />
<line x1="389.40" y1="101.24" x2="390.60" y2="101.24" stroke="#888" stroke-width="0.6" />
<line x1="389.40" y1="99.37" x2="390.60" y2="99.37" stroke="#888" stroke-width="0.6" />
<line x1="389.40" y1="97.49" x2="390.60" y2="97.49" stroke="#888" stroke-width="0.6" />
<line x1="389.40" y1="95.62" x2="390.60" y2="95.62" stroke="#888" stroke-width="0.6" />
<line x1="389.40" y1="93.74" x2="390.60" y2="93.74" stroke="#888" stroke-width="0.6" />
<line x1="389.40" y1="91.86" x2="390.60" y2="91.86" stroke="#888" stroke-width="0.6" />
<line x1="389.40" y1="89.99" x2="390.60" y2="89.99" stroke="#888" stroke-width="0.6" />
<line x1="389.40" y1="88.11" x2="390.60" y2="88.11" stroke="#888" stroke-width="0.6" />
<line x1="389.40" y1="86.24" x2="390.60" y2="86.24" stroke="#888" stroke-width="0.6" />
<line x1="389.40" y1="84.36" x2="390.60" y2="84.36" stroke="#888" stroke-width="0.6" />
<line x1="389.40" y1="82.48" x2="390.60" y2="82.48" stroke="#888" stroke-width="0.6" />
<line x1="389.40" y1="80.61" x2="390.60" y2="80.61" stroke="#888" stroke-width="0.6" />
<line x1="389.40" y1="78.73" x2="390.60" y2="78.73" stroke="#888" stroke-width="0.6" />
<line x1="389.40" y1="76.86" x2="390.60" y2="76.86" stroke="#888" stroke-width="0.6" />
<line x1="389.40" y1="74.98" x2="390.60" y2="74.98" stroke="#888" stroke-width="0.6" />
<line x1="389.40" y1="73.10" x2="390.60" y2="73.10" stroke="#888" stroke-width="0.6" />
<line x1="389.40" y1="71.23" x2="390.60" y2="71.23" stroke="#888" stroke-width="0.6" />
<line x1="389.40" y1="69.35" x2="390.60" y2="69.35" stroke="#888" stroke-width="0.6" />
<line x1="389.40" y1="67.48" x2="390.60" y2="67.48" stroke="#888" stroke-width="0.6" />
<line x1="389.40" y1="65.60" x2="390.60" y2="65.60" stroke="#888" stroke-width="0.6" />
<line x1="389.40" y1="112.50" x2="518.20" y2="112.50" stroke="#222" stroke-width="1.3" />
<line x1="389.40" y1="112.50" x2="389.40" y2="114.50" stroke="#555" stroke-width="0.9" />
<line x1="395.00" y1="112.50" x2="395.00" y2="113.70" stroke="#888" stroke-width="0.6" />
<line x1="400.60" y1="112.50" x2="400.60" y2="113.70" stroke="#888" stroke-width="0.6" />
<line x1="406.20" y1="112.50" x2="406.20" y2="113.70" stroke="#888" stroke-width="0.6" />
<line x1="411.80" y1="112.50" x2="411.80" y2="114.50" stroke="#555" stroke-width="0.9" />
<line x1="417.40" y1="112.50" x2="417.40" y2="113.70" stroke="#888" stroke-width="0.6" />
<line x1="423.00" y1="112.50" x2="423.00" y2="113.70" stroke="#888" stroke-width="0.6" />
<line x1="428.60" y1="112.50" x2="428.60" y2="113.70" stroke="#888" stroke-width="0.6" />
<line x1="434.20" y1="112.50" x2="434.20" y2="114.50" stroke="#555" stroke-width="0.9" />
<line x1="439.80" y1="112.50" x2="439.80" y2="113.70" stroke="#888" stroke-width="0.6" />
<line x1="445.40" y1="112.50" x2="445.40" y2="113.70" stroke="#888" stroke-width="0.6" />
<line x1="451.00" y1="112.50" x2="451.00" y2="113.70" stroke="#888" stroke-width="0.6" />
<line x1="456.60" y1="112.50" x2="456.60" y2="114.50" stroke="#555" stroke-width="0.9" />
<line x1="462.20" y1="112.50" x2="462.20" y2="113.70" stroke="#888" stroke-width="0.6" />
<line x1="467.80" y1="112.50" x2="467.80" y2="113.70" stroke="#888" stroke-width="0.6" />
<line x1="473.40" y1="112.50" x2="473.40" y2="113.70" stroke="#888" stroke-width="0.6" />
<line x1="479.00" y1="112.50" x2="479.00" y2="114.50" stroke="#555" stroke-width="0.9" />
<line x1="484.60" y1="112.50" x2="484.60" y2="113.70" stroke="#888" stroke-width="0.6" />
<line x1="490.20" y1="112.50" x2="490.20" y2="113.70" stroke="#888" stroke-width="0.6" />
<line x1="495.80" y1="112.50" x2="495.80" y2="113.70" stroke="#888" stroke-width="0.6" />
<line x1="501.40" y1="112.50" x2="501.40" y2="114.50" stroke="#555" stroke-width="0.9" />
<line x1="507.00" y1="112.50" x2="507.00" y2="113.70" stroke="#888" stroke-width="0.6" />
<line x1="512.60" y1="112.50" x2="512.60" y2="113.70" stroke="#888" stroke-width="0.6" />
<text x="389.80" y="122.10" font-size="7.4" text-anchor="middle" font-weight="normal" font-style="normal" fill="#333" class="g">0</text>
<text x="412.20" y="122.10" font-size="7.4" text-anchor="middle" font-weight="normal" font-style="normal" fill="#333" class="g">20</text>
<text x="434.60" y="122.10" font-size="7.4" text-anchor="middle" font-weight="normal" font-style="normal" fill="#333" class="g">40</text>
<text x="457.00" y="122.10" font-size="7.4" text-anchor="middle" font-weight="normal" font-style="normal" fill="#333" class="g">60</text>
<text x="479.40" y="122.10" font-size="7.4" text-anchor="middle" font-weight="normal" font-style="normal" fill="#333" class="g">80</text>
<text x="501.80" y="122.10" font-size="7.4" text-anchor="middle" font-weight="normal" font-style="normal" fill="#333" class="g">100</text>
<path d="M389.90,102.64 L391.45,102.64 L393.00,103.04 L394.45,102.97 L395.90,102.92 L397.35,103.23 L398.80,103.44 L400.11,102.91 L401.43,103.08 L402.74,102.99 L404.06,103.22 L405.37,103.18 L406.69,102.70 L408.00,102.98 L409.20,102.76 L410.40,102.25 L411.60,102.25 L412.80,101.88 L414.00,102.22 L415.40,101.86 L416.80,101.77 L418.20,101.45 L419.60,101.12 L421.05,100.71 L422.50,100.14 L423.95,99.37 L425.40,99.26 L426.82,98.43 L428.25,98.10 L429.68,98.12 L431.10,97.18 L432.48,97.09 L433.86,96.98 L435.24,97.41 L436.62,96.80 L438.00,96.57 L439.40,96.92 L440.80,96.19 L442.20,96.48 L443.60,96.14 L445.00,96.04 L446.25,95.67 L447.50,94.96 L448.75,94.66 L450.00,93.68 L451.27,93.81 L452.55,93.26 L453.83,93.03 L455.10,92.22 L456.33,92.50 L457.55,92.45 L458.77,91.67 L460.00,91.68 L461.38,91.54 L462.75,91.43 L464.12,90.72 L465.50,90.38 L467.00,90.09 L468.50,90.01 L470.00,89.78 L471.48,89.13 L472.95,88.71 L474.42,88.33 L475.90,87.90 L477.17,87.84 L478.45,87.51 L479.73,87.70 L481.00,87.93 L482.32,87.22 L483.64,87.13 L484.96,86.40 L486.28,86.45 L487.60,86.18 L489.07,85.72 L490.53,85.21 L492.00,84.79 L493.57,84.43 L495.13,84.14 L496.70,83.15 L498.13,83.52 L499.57,84.37 L501.00,84.89 L502.22,84.73 L503.44,84.80 L504.66,85.11 L505.88,84.86 L507.10,85.04 L508.33,85.04 L509.55,85.36 L510.77,85.22 L512.00,85.21 L513.25,85.68 L514.50,86.02 L515.75,85.71 L517.00,86.00" stroke="#333" stroke-width="1.0" fill="none" stroke-linejoin="round"/>
<text x="421.70" y="86.60" font-size="9.8" text-anchor="middle" font-weight="normal" font-style="normal" fill="#000" >IgM</text>
<line x1="420.20" y1="88.40" x2="420.20" y2="94.50" stroke="#000" stroke-width="1.2" />
<path d="M417.8,93.8 L422.59999999999997,93.8 L420.2,98.0 Z" stroke="#000" stroke-width="0.3" fill="#000" />
<text x="517.2" y="98.4" font-size="10" text-anchor="end"><tspan font-style="italic">miR</tspan>-155</text>
<text x="517.20" y="109.70" font-size="10" text-anchor="end" font-weight="normal" font-style="normal" fill="#000" >inhibitor</text>
<text transform="translate(188.9,98.8) rotate(-90)" font-size="9.6"><tspan font-size="10.1">Relative</tspan><tspan dx="1.3">[Ca</tspan> <tspan font-size="6" dy="-3.4" dx="-1">2++</tspan><tspan dy="3.4">]</tspan><tspan font-size="6" dy="1.8">i</tspan></text>
<text transform="translate(374.7,98.8) rotate(-90)" font-size="9.6"><tspan font-size="10.1">Relative</tspan><tspan dx="1.3">[Ca</tspan> <tspan font-size="6" dy="-3.4" dx="-1">2++</tspan><tspan dy="3.4">]</tspan><tspan font-size="6" dy="1.8">i</tspan></text>
<line x1="187.60" y1="108.80" x2="187.60" y2="127.50" stroke="#222" stroke-width="1.4" />
<line x1="187.60" y1="126.80" x2="201.00" y2="126.80" stroke="#222" stroke-width="1.4" />
<path d="M185.4,109.6 L189.79999999999998,109.6 L187.6,104.8 Z" stroke="#222" stroke-width="0.3" fill="#222" />
<path d="M200.2,124.6 L200.2,129.0 L205.0,126.8 Z" stroke="#222" stroke-width="0.3" fill="#222" />
<text x="211.90" y="130.70" font-size="9.0" text-anchor="start" font-weight="normal" font-style="normal" fill="#000" textLength="65.6" lengthAdjust="spacingAndGlyphs">Time (seconds)</text>
<line x1="372.00" y1="109.30" x2="372.00" y2="127.70" stroke="#222" stroke-width="1.4" />
<line x1="372.00" y1="127.00" x2="385.80" y2="127.00" stroke="#222" stroke-width="1.4" />
<path d="M369.8,110.1 L374.2,110.1 L372.0,105.3 Z" stroke="#222" stroke-width="0.3" fill="#222" />
<path d="M385.0,124.8 L385.0,129.2 L389.8,127.0 Z" stroke="#222" stroke-width="0.3" fill="#222" />
<text x="396.80" y="130.80" font-size="9.0" text-anchor="start" font-weight="normal" font-style="normal" fill="#000" textLength="64.8" lengthAdjust="spacingAndGlyphs">Time (seconds)</text>
</g>
</svg>
</body></html>
